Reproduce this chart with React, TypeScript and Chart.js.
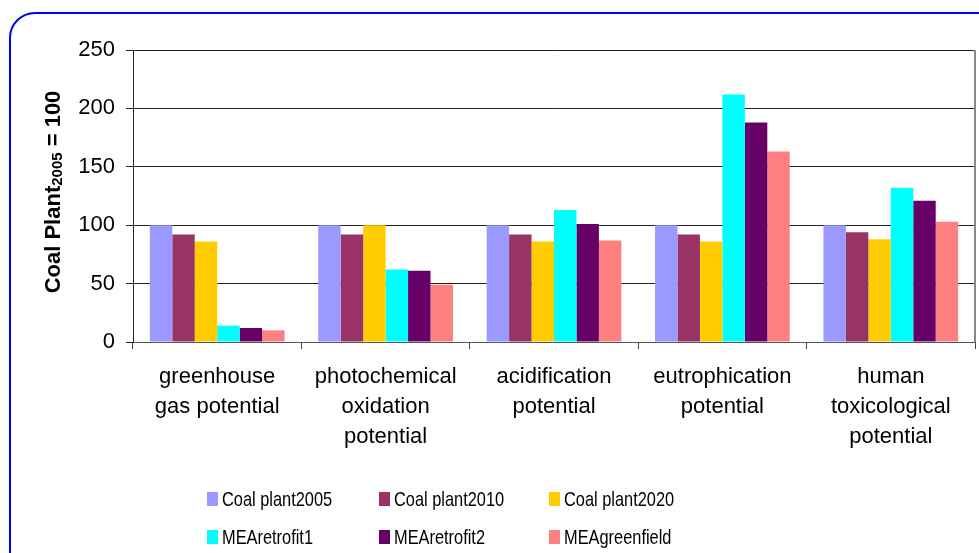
import React, { useEffect, useRef } from 'react';
import { Chart, registerables } from 'chart.js';

Chart.register(...registerables);

const categories: string[][] = [
  ['greenhouse', 'gas potential'],
  ['photochemical', 'oxidation', 'potential'],
  ['acidification', 'potential'],
  ['eutrophication', 'potential'],
  ['human', 'toxicological', 'potential'],
];

const seriesNames = ['Coal plant2005', 'Coal plant2010', 'Coal plant2020', 'MEAretrofit1', 'MEAretrofit2', 'MEAgreenfield'];
const coalPlant2005 = [100, 100, 100, 100, 100];
const coalPlant2010 = [92, 92, 92, 92, 94];
const coalPlant2020 = [86, 100, 86, 86, 88];
const meaRetrofit1 = [14, 62, 113, 212, 132];
const meaRetrofit2 = [12, 61, 101, 188, 121];
const meaGreenfield = [10, 49, 87, 163, 103];
const seriesColors = ['#9999FF', '#993366', '#FFCC00', '#00FFFF', '#660066', '#FF8080'];

const yMin = 0;
const yMax = 250;
const yStep = 50;

const FONT = '"Liberation Sans", Arial, sans-serif';

const decorPlugin = {
  id: 'decor',
  beforeDraw(chart: any) {
    const ctx = chart.ctx;
    ctx.save();
    ctx.fillStyle = '#ffffff';
    ctx.fillRect(0, 0, chart.width, chart.height);
    ctx.strokeStyle = '#0000FF';
    ctx.lineWidth = 2;
    ctx.beginPath();
    ctx.roundRect(10, 13, 1000, 600, 25);
    ctx.stroke();
    ctx.restore();
  },
  afterDraw(chart: any) {
    const ctx = chart.ctx;
    const area = chart.chartArea;
    ctx.save();
    // right edge of plot area
    ctx.strokeStyle = '#888888';
    ctx.lineWidth = 2;
    ctx.beginPath();
    ctx.moveTo(area.right, area.top);
    ctx.lineTo(area.right, area.bottom);
    ctx.stroke();

    // y-axis title with subscript
    const main1 = 'Coal Plant';
    const sub = '2005';
    const main2 = ' = 100';
    const mainFont = `bold 22px ${FONT}`;
    const subFont = `bold 15px ${FONT}`;
    ctx.font = mainFont;
    const w1 = ctx.measureText(main1).width;
    const w3 = ctx.measureText(main2).width;
    ctx.font = subFont;
    const w2 = ctx.measureText(sub).width;
    const total = w1 + w2 + w3;
    const cy = (area.top + area.bottom) / 2 - 4;
    ctx.translate(60, cy);
    ctx.rotate(-Math.PI / 2);
    ctx.fillStyle = '#000000';
    ctx.textBaseline = 'alphabetic';
    ctx.textAlign = 'left';
    let x = -total / 2;
    ctx.font = mainFont;
    ctx.fillText(main1, x, 0);
    x += w1;
    ctx.font = subFont;
    ctx.fillText(sub, x, 2);
    x += w2;
    ctx.font = mainFont;
    ctx.fillText(main2, x, 0);
    ctx.restore();

    // legend: 2 rows x 3 columns
    ctx.save();
    const colBox = [207, 379, 549];
    const rowY = [499, 537];
    chart.data.datasets.forEach((ds: any, i: number) => {
      const col = i % 3;
      const row = Math.floor(i / 3);
      const bx = colBox[col];
      const by = rowY[row];
      ctx.fillStyle = ds.backgroundColor;
      ctx.fillRect(bx, by - 7, 11, 14);
      ctx.save();
      ctx.translate(bx + 15, by);
      ctx.scale(0.78, 1);
      ctx.font = `21px ${FONT}`;
      ctx.fillStyle = '#000000';
      ctx.textBaseline = 'middle';
      ctx.textAlign = 'left';
      ctx.fillText(ds.label, 0, 1);
      ctx.restore();
    });
    ctx.restore();
  },
};

export default function App() {
  const canvasRef = useRef<HTMLCanvasElement | null>(null);

  useEffect(() => {
    document.body.style.margin = '0';
    const canvas = canvasRef.current;
    if (!canvas) return;
    const allSeries = [coalPlant2005, coalPlant2010, coalPlant2020, meaRetrofit1, meaRetrofit2, meaGreenfield];
    const chart = new Chart(canvas, {
      type: 'bar',
      data: {
        labels: categories,
        datasets: allSeries.map((values, i) => ({
          label: seriesNames[i],
          data: values,
          backgroundColor: seriesColors[i],
          borderWidth: 0,
          categoryPercentage: 0.8,
          barPercentage: 1.0,
        })),
      },
      options: {
        responsive: false,
        animation: false,
        devicePixelRatio: 1,
        layout: { padding: { left: 0, top: 50, right: 4, bottom: 0 } },
        plugins: {
          legend: { display: false },
          title: { display: false },
          tooltip: { enabled: false },
        },
        scales: {
          x: {
            type: 'category',
            offset: true,
            grid: {
              offset: true,
              drawOnChartArea: false,
              drawTicks: true,
              tickLength: 7,
              color: '#444444',
              lineWidth: 1,
            },
            border: { display: true, color: '#555555', width: 1 },
            ticks: {
              color: '#000000',
              font: { family: FONT, size: 22, lineHeight: 1.36 },
              padding: 13,
              maxRotation: 0,
              minRotation: 0,
              autoSkip: false,
            },
            afterFit(scale: any) {
              scale.height = 211;
            },
          },
          y: {
            min: yMin,
            max: yMax,
            ticks: {
              stepSize: yStep,
              color: '#000000',
              font: { family: FONT, size: 22 },
              padding: 11,
            },
            grid: {
              color: '#222222',
              lineWidth: 1,
              drawTicks: true,
              tickLength: 7,
            },
            border: { display: true, color: '#222222', width: 1 },
            afterFit(scale: any) {
              scale.width = 133;
            },
          },
        },
      },
      plugins: [decorPlugin],
    });
    return () => chart.destroy();
  }, []);

  return (
    <div style={{ width: 979, height: 553, position: 'relative' }}>
      <canvas ref={canvasRef} width={979} height={553} style={{ display: 'block', width: 979, height: 553 }} />
    </div>
  );
}
